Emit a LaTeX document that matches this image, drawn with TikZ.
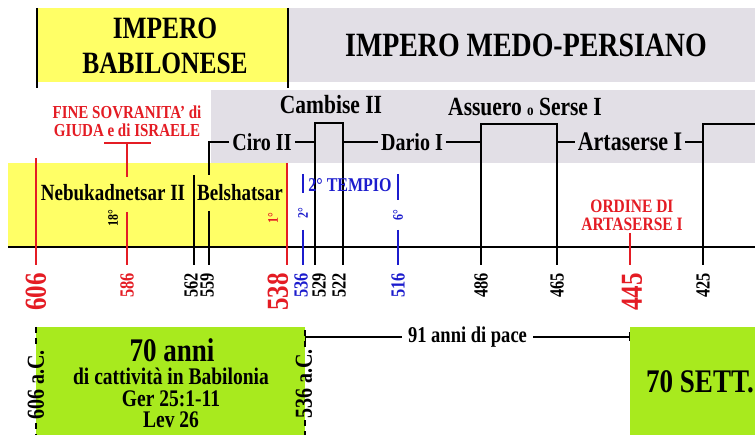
\documentclass[tikz,border=0pt]{standalone}
\usepackage{fontspec}
\setmainfont{Liberation Serif}[FakeStretch=0.82]
\usetikzlibrary{arrows.meta,positioning}

\definecolor{babyellow}{RGB}{255,255,102}
\definecolor{persgray}{RGB}{226,223,230}
\definecolor{captgreen}{RGB}{168,234,30}
\definecolor{evred}{RGB}{228,28,36}
\definecolor{evblue}{RGB}{28,28,205}
\newcommand{\sizebf}[2]{\fontsize{#1}{#2}\selectfont\bfseries}

\begin{document}
\begin{tikzpicture}[x=1pt,y=-1pt,
    every node/.style={inner sep=1pt},
    king/.style={inner xsep=3pt,font=\sizebf{24.4}{26}},
    yr/.style={rotate=90,anchor=east,inner sep=0pt,font=\sizebf{20}{22}},
    bigyr/.style={yr,font=\sizebf{30.5}{32}},
    ord/.style={rotate=90,inner sep=0pt,font=\sizebf{14.6}{16}},
    yrline/.style={line width=2pt},
    rail/.style={line width=2pt,line join=miter}]
  \useasboundingbox (0,0) rectangle (755,435);
  % empires
  \fill[babyellow] (37,8) rectangle (288,82);
  \fill[persgray] (288,8) rectangle (755,82);
  \draw[line width=2.5pt] (37,8) -- (37,88) (288,8) -- (288,88);
  \node[align=center,font=\sizebf{31}{35}] (babylon) at (165,46) {IMPERO\\BABILONESE};
  \node[font=\sizebf{34}{36}] (persia) at (526,45) {IMPERO MEDO-PERSIANO};
  \fill[persgray] (211,90) rectangle (755,163);
  \fill[babyellow] (8,163) rectangle (288,247);
  % timeline
  \draw[line width=2pt] (8,247) -- (755,247);
  \draw[yrline] (194,175) -- (194,265);
  \foreach \x/\top in {36/158,287/163,630/233}
    \draw[yrline,evred] (\x,\top) -- (\x,265);
  \draw[yrline,evred] (104,143) -- (151,143) (127,143) -- (127,177) (127,212) -- (127,265);
  \foreach \x/\top in {303/193,398/200}
    \draw[yrline,evblue] (\x,174) -- (\x,\top) (\x,230) -- (\x,265);
  % kings
  \node[king] (ciro) at (262,142) {Ciro II};
  \node[king] (dario) at (412,142) {Dario I};
  \node[king,font=\sizebf{26.8}{28}] (arta) at (630,142) {Artaserse I};
  \node[font=\sizebf{26.2}{28}] (cambise) at (331,105) {Cambise II};
  \node[font=\sizebf{26.2}{28}] (assuero) at (525,107) {Assuero {\fontsize{15.9}{17}\selectfont o} Serse I};
  \draw[rail] (ciro) -- (209,142) -- (209,175) (209,211) -- (209,265);
  \draw[rail] (315,265) -- (315,123) -- (343,123) -- (343,265);
  \draw[rail] (481,265) -- (481,124) -- (557,124) -- (557,265);
  \draw[rail] (703,265) -- (703,124) -- (755,124);
  \draw[rail] (ciro) -- (315,142) (dario) -- (343,142) (dario) -- (481,142)
    (arta) -- (557,142) (arta) -- (703,142);
  \node[king,font=\sizebf{23.2}{25}] (nebu) at (113,193) {Nebukadnetsar II};
  \node[king,font=\sizebf{23.2}{25}] (bel) at (240,193) {Belshatsar};
  % events
  \node[evred,align=center,font=\sizebf{18.3}{18}] (fine) at (127,121) {FINE SOVRANITA' di\\GIUDA e di ISRAELE};
  \node[evblue,font=\sizebf{19.5}{21}] (tempio) at (350,185) {2° TEMPIO};
  \node[evred,align=center,font=\sizebf{18.9}{18}] (ordine) at (632,215) {ORDINE DI\\ARTASERSE I};
  \node[ord] (o18) at (113,218) {18°};
  \node[ord,evred] (o1) at (273,218) {1°};
  \node[ord,evblue] (o2) at (303,213) {2°};
  \node[ord,evblue] (o6) at (398,215) {6°};
  % years
  \foreach \x/\yr in {36/606,278/538,632/445}
    \node[bigyr,evred] (y\yr) at (\x,273) {\yr};
  \foreach \x/\yr in {191/562,207/559,319/529,339/522,481/486,557/465,703/425}
    \node[yr] (y\yr) at (\x,273) {\yr};
  \node[yr,evred] (y586) at (127,273) {586};
  \foreach \x/\yr in {301/536,398/516}
    \node[yr,evblue] (y\yr) at (\x,273) {\yr};
  % captivity
  \fill[captgreen] (36,327) rectangle (305,435);
  \fill[captgreen] (630,327) rectangle (755,435);
  \draw[line width=1.5pt,dash pattern=on 6pt off 5pt] (36,327) -- (36,347) (36,423) -- (36,435)
    (305,330) -- (305,347) (305,420) -- (305,435);
  \node[rotate=90,font=\sizebf{24.4}{26}] (from) at (36,385) {606 a.C.};
  \node[rotate=90,font=\sizebf{24.4}{26}] (to) at (304,384) {536 a.C.};
  \coordinate (pacestart) at (305,337);
  \coordinate (paceend) at (630,337);
  \draw[{Bar[width=9pt]}-{Bar[width=9pt]},line width=1.3pt] (pacestart) --
    node[fill=white,inner xsep=6pt,font=\sizebf{22.6}{24}] (pace) {91 anni di pace} (paceend);
  \node[font=\sizebf{33}{35}] (anni) at (172,350) {70 anni};
  \node[align=center,font=\sizebf{23.8}{21.5}] (capt) at (171,398) {di cattività in Babilonia\\Ger 25:1-11\\Lev 26};
  \node[font=\sizebf{33}{35}] (sett) at (700,382) {70 SETT.};
\end{tikzpicture}
\end{document}
